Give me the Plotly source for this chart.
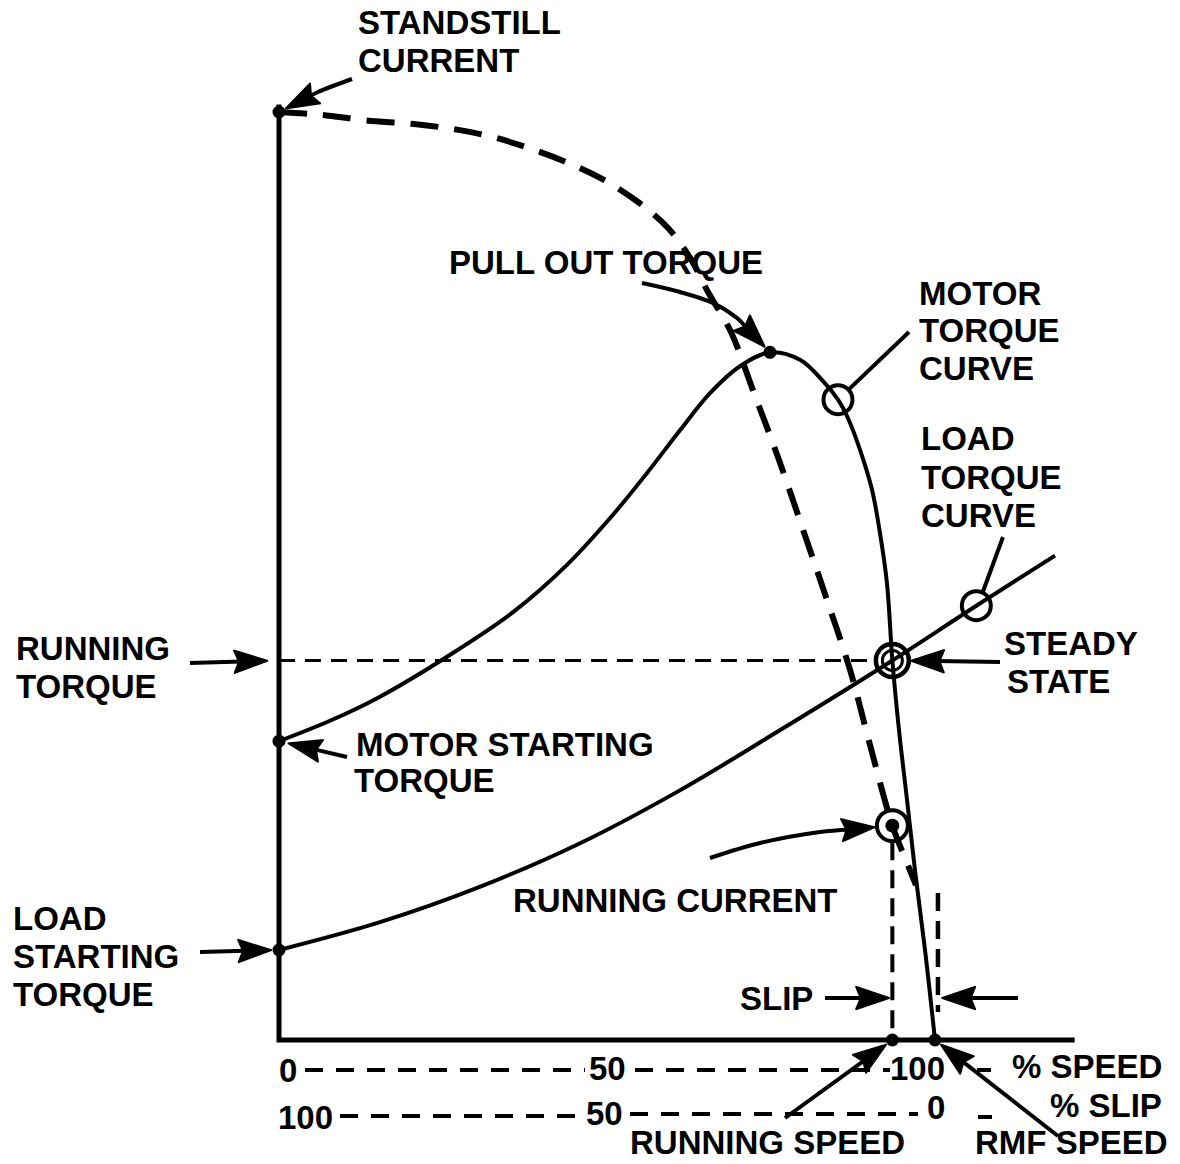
import math
import plotly.graph_objects as go

W, H = 1180, 1164

# ---- data (x: % of synchronous speed, y: % of standstill current / torque units) ----
motor_speed = [0, 7.77, 15.40, 25.61, 35.67, 43.90, 50.91, 56.10, 61.13, 65.70, 70.27,
               74.85, 79.42, 82.93, 85.21, 86.74, 88.57, 90.40, 91.62, 92.68, 93.5,
               94.51, 95.73, 96.95, 98.48, 100]
motor_torque = [32.2, 34.4, 37.0, 41.3, 46.1, 51.2, 56.6, 61.1, 65.7, 69.7, 72.6,
                74.1, 73.3, 71.0, 69.0, 67.0, 63.6, 59.3, 54.6, 49.2, 40.9,
                33.4, 25.9, 18.3, 9.7, 0]

current_speed = [0, 6.25, 13.26, 20.58, 27.13, 32.62, 38.11, 43.45, 49.24, 54.73, 59.30,
                 62.65, 65.40, 68.90, 72.26, 76.07, 79.88, 83.54, 87.04, 90.09, 93.5,
                 95.43, 97.10]
current_value = [100, 99.7, 99.1, 98.7, 98.1, 97.3, 96.1, 94.7, 92.8, 90.3, 87.5,
                 84.3, 80.6, 76.3, 70.0, 62.8, 55.0, 47.4, 39.9, 31.8, 23.1,
                 19.6, 16.7]

load_speed = [0, 15.4, 30.6, 45.9, 61.1, 76.4, 93.5, 106.3, 118.3]
load_torque = [9.7, 12.7, 16.5, 21.2, 26.9, 33.4, 40.9, 46.8, 52.2]

standstill_current = 100
motor_start_torque = 32.2
load_start_torque = 9.7
pullout_speed, pullout_torque = 74.85, 74.1
running_speed = 93.5
running_torque = 40.9
running_current = 23.1
rmf_speed = 100
motor_marker = (85.21, 69.0)
load_marker = (106.3, 46.8)

speed_ticks = ["0", "50", "100"]
slip_ticks = ["100", "50", "0"]

# ---- canvas mapping (pixel <-> data) ----
X_PX0, X_SCALE = 279, 6.56
Y_PX0, Y_SCALE = 1040, 9.28
x_range = [(0 - X_PX0) / X_SCALE, (W - X_PX0) / X_SCALE]
y_range = [(Y_PX0 - H) / Y_SCALE, Y_PX0 / Y_SCALE]


def xv(px):
    return (px - X_PX0) / X_SCALE


def yv(py):
    return (Y_PX0 - py) / Y_SCALE


def to_px(x, y):
    return X_PX0 + x * X_SCALE, Y_PX0 - y * Y_SCALE


BLACK = "black"
FONT = dict(family="Liberation Sans, Arial, Helvetica, sans-serif", size=33, color=BLACK)

fig = go.Figure()


def line(xs, ys, width=4, dash=None, shape="linear"):
    fig.add_trace(go.Scatter(x=xs, y=ys, mode="lines", hoverinfo="skip",
                             line=dict(color=BLACK, width=width, dash=dash, shape=shape,
                                       smoothing=1.0)))


def dots(xs, ys, size=13, symbol="circle", lw=0):
    fig.add_trace(go.Scatter(x=xs, y=ys, mode="markers", hoverinfo="skip",
                             marker=dict(size=size, symbol=symbol, color=BLACK,
                                         line=dict(color=BLACK, width=lw))))


def arrow(x, y, via_px, standoff=0, head_len=34, half_w=11.5, width=4):
    """Arrow ending at data point (x, y); via_px lists shaft points in pixels."""
    tx, ty = to_px(x, y)
    px0, py0 = via_px[-1]
    dx, dy = tx - px0, ty - py0
    d = math.hypot(dx, dy)
    ux, uy = dx / d, dy / d
    tipx, tipy = tx - ux * standoff, ty - uy * standoff
    bx, by = tipx - ux * head_len, tipy - uy * head_len
    nx, ny = tipx - ux * head_len * 0.86, tipy - uy * head_len * 0.86
    lx, ly = bx - uy * half_w, by + ux * half_w
    rx, ry = bx + uy * half_w, by - ux * half_w
    shaft = list(via_px) + [(nx + ux * 3, ny + uy * 3)]
    line([xv(p[0]) for p in shaft], [yv(p[1]) for p in shaft], width=width,
         shape="spline" if len(shaft) > 2 else "linear")
    poly = [(tipx, tipy), (lx, ly), (nx, ny), (rx, ry), (tipx, tipy)]
    fig.add_trace(go.Scatter(x=[xv(p[0]) for p in poly], y=[yv(p[1]) for p in poly],
                             mode="lines", fill="toself", fillcolor=BLACK, hoverinfo="skip",
                             line=dict(color=BLACK, width=1.5)))


# axes
line([0, 0, 121.3], [100.8, 0, 0], width=5)

# running torque reference and slip drop lines
line([0, running_speed - 2.2], [running_torque, running_torque], width=3, dash="16px,10px")
line([running_speed, running_speed], [running_current - 1.8, 0], width=4, dash="18px,10px")
line([rmf_speed + 0.45, rmf_speed + 0.45], [yv(893), yv(1012)], width=4.5, dash="18px,10px")

# curves
line(current_speed, current_value, width=6, dash="28px,16px", shape="spline")
line(motor_speed, motor_torque, width=4, shape="spline")
line(load_speed, load_torque, width=4, shape="spline")

# leader lines for curve callouts
line([motor_marker[0] + 1.5, xv(909)], [motor_marker[1] + 1.0, yv(332)], width=4)
line([load_marker[0] + 1.0, xv(1003)], [load_marker[1] + 1.5, yv(537)], width=4)

# speed / slip scales under the axis
line([xv(305), xv(585)], [yv(1070)] * 2, width=4, dash="18px,13px")
line([xv(635), xv(890)], [yv(1070)] * 2, width=4, dash="18px,13px")
line([xv(340), xv(583)], [yv(1116)] * 2, width=4, dash="18px,13px")
line([xv(630), xv(918)], [yv(1114)] * 2, width=4, dash="18px,13px")
line([xv(977), xv(991)], [yv(1070)] * 2, width=4)
line([xv(978), xv(992)], [yv(1117)] * 2, width=4)

# key points
dots([0, 0, 0, pullout_speed, running_speed, rmf_speed],
     [standstill_current, motor_start_torque, load_start_torque, pullout_torque, 0, 0])
dots([motor_marker[0], load_marker[0]], [motor_marker[1], load_marker[1]],
     size=29, symbol="circle-open", lw=4)
dots([running_speed], [running_torque], size=33, symbol="circle-open", lw=4.5)
dots([running_speed], [running_torque], size=20, symbol="circle-open", lw=3)
dots([running_speed], [running_current], size=31, symbol="circle-open", lw=4)
dots([running_speed], [running_current], size=14)

# callout arrows
arrow(0, standstill_current, [(352, 79), (318, 92)], standoff=7)
arrow(pullout_speed, pullout_torque, [(642, 283), (680, 292), (713, 303), (737, 318)],
      standoff=7)
arrow(running_speed, running_current, [(710, 858), (760, 843), (820, 832)], standoff=17)
arrow(0, running_torque, [(190, 663)], standoff=11)
arrow(0, motor_start_torque, [(347, 757)], standoff=9)
arrow(0, load_start_torque, [(200, 952)], standoff=7)
arrow(running_speed, running_torque, [(1000, 662)], standoff=18)
arrow(running_speed - 0.4, yv(998), [(825, 998)], standoff=0)
arrow(rmf_speed + 1.0, yv(998), [(1018, 998)], standoff=0)
arrow(running_speed, 0, [(785, 1118)], standoff=7)
arrow(rmf_speed, 0, [(1058, 1136)], standoff=7)

annotations = []


def label(text, px, py, anchor="left"):
    annotations.append(dict(text="<b>%s</b>" % text, xref="paper", yref="paper",
                            x=px / W, y=1 - py / H, xanchor=anchor, yanchor="middle",
                            showarrow=False, font=FONT))


label("STANDSTILL", 356, 22)
label("CURRENT", 356, 60)
label("PULL OUT TORQUE", 447, 263)
label("MOTOR", 917, 293)
label("TORQUE", 917, 330)
label("CURVE", 917, 368)
label("LOAD", 919, 438)
label("TORQUE", 919, 477)
label("CURVE", 919, 515)
label("STEADY", 1002, 643)
label("STATE", 1005, 681)
label("RUNNING", 14, 648)
label("TORQUE", 14, 686)
label("MOTOR STARTING", 354, 745)
label("TORQUE", 352, 781)
label("LOAD", 11, 918)
label("STARTING", 11, 956)
label("TORQUE", 11, 994)
label("RUNNING CURRENT", 511, 900)
label("SLIP", 738, 998)
label(speed_ticks[0], 288, 1070, "center")
label(speed_ticks[1], 607, 1068, "center")
label(speed_ticks[2], 918, 1068, "center")
label("% SPEED", 1010, 1066)
label(slip_ticks[0], 305, 1117, "center")
label(slip_ticks[1], 604, 1113, "center")
label(slip_ticks[2], 936, 1107, "center")
label("% SLIP", 1048, 1105)
label("RUNNING SPEED", 628, 1142)
label("RMF SPEED", 973, 1142)

fig.update_layout(
    width=W, height=H, margin=dict(l=0, r=0, t=0, b=0),
    paper_bgcolor="white", plot_bgcolor="white", showlegend=False,
    xaxis=dict(range=x_range, visible=False, fixedrange=True),
    yaxis=dict(range=y_range, visible=False, fixedrange=True),
    annotations=annotations,
)

fig.write_html("out.html", config={"displayModeBar": False})
